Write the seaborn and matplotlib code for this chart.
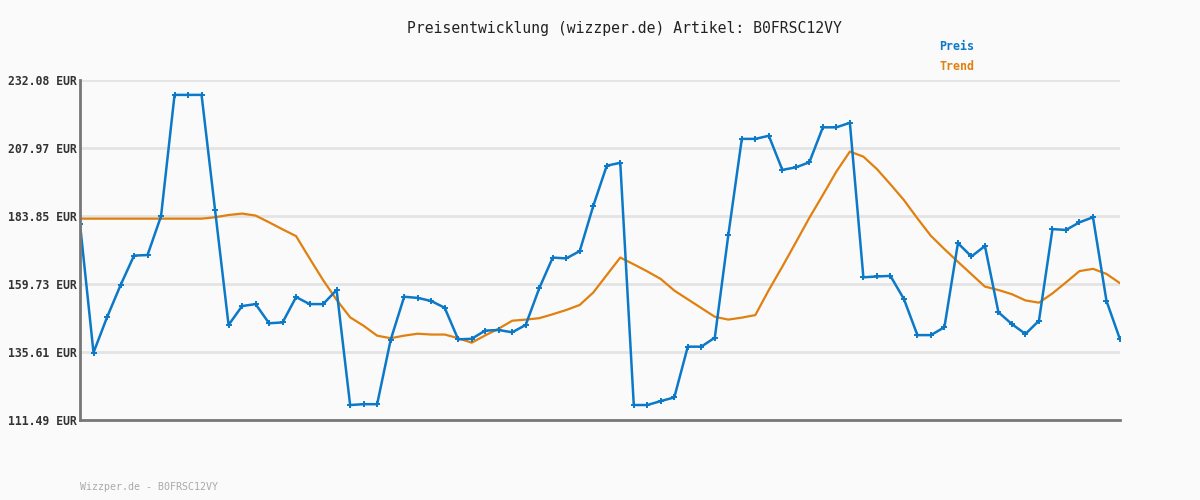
import matplotlib
matplotlib.use("Agg")
import matplotlib.pyplot as plt
import seaborn as sns
import pandas as pd

title = "Preisentwicklung (wizzper.de) Artikel: B0FRSC12VY"
footer = "Wizzper.de - B0FRSC12VY"
series_names = ["Preis", "Trend"]

preis = [181.0, 135.4, 147.9, 159.3, 169.8, 170.0, 183.8, 226.8, 226.8, 226.8,
         186.0, 145.2, 151.9, 152.6, 145.8, 146.1, 155.1, 152.6, 152.6, 157.6,
         116.8, 117.1, 117.1, 139.9, 155.2, 154.8, 153.7, 151.3, 140.1, 140.3,
         143.2, 143.4, 142.6, 145.2, 158.2, 169.1, 168.8, 171.4, 187.4, 201.7,
         202.7, 116.8, 116.8, 118.2, 119.5, 137.5, 137.5, 140.7, 177.1, 211.2,
         211.2, 212.3, 200.2, 201.1, 202.9, 215.3, 215.3, 216.9, 162.1, 162.4,
         162.6, 154.4, 141.6, 141.6, 144.4, 174.2, 169.5, 173.2, 149.7, 145.5,
         142.0, 146.7, 179.2, 178.9, 181.6, 183.4, 153.7, 140.1]

trend = [182.9, 182.9, 182.9, 182.9, 182.9, 182.9, 182.9, 182.9, 182.9, 182.9,
         183.4, 184.2, 184.7, 184.0, 181.6, 179.1, 176.7, 168.8, 161.1, 154.1,
         147.9, 144.9, 141.4, 140.5, 141.4, 142.1, 141.8, 141.8, 140.5, 138.9,
         141.5, 143.9, 146.7, 147.1, 147.6, 149.0, 150.5, 152.3, 156.7, 162.9,
         169.1, 166.7, 164.2, 161.5, 157.4, 154.3, 151.2, 148.1, 147.1, 147.8,
         148.7, 157.6, 165.9, 174.5, 183.2, 191.3, 199.6, 206.7, 204.9, 200.5,
         195.1, 189.5, 183.0, 176.8, 172.1, 167.6, 163.2, 158.8, 157.6, 156.1,
         153.9, 153.1, 156.4, 160.3, 164.3, 165.1, 163.3, 160.0]

y_ticks = [111.49, 135.61, 159.73, 183.85, 207.97, 232.08]
y_labels = ["111.49 EUR", "135.61 EUR", "159.73 EUR", "183.85 EUR", "207.97 EUR", "232.08 EUR"]

blue = "#0b79c8"
orange = "#e0800f"
bg = "#fafafa"

sns.set_style("white")
plt.rcParams["font.family"] = ["DejaVu Sans Mono", "DejaVu Sans"]

idx = list(range(len(preis)))
df = pd.DataFrame({"idx": idx, "Preis": preis, "Trend": trend})

fig = plt.figure(figsize=(12, 5), dpi=100, facecolor=bg)
ax = fig.add_axes([80 / 1200, 80 / 500, 1040 / 1200, 340 / 500])
ax.set_facecolor(bg)

sns.lineplot(data=df, x="idx", y="Trend", ax=ax, color=orange, linewidth=1.6, zorder=3)
sns.lineplot(data=df, x="idx", y="Preis", ax=ax, color=blue, linewidth=1.8,
             marker="+", markersize=4.5, markeredgewidth=1.4, markeredgecolor=blue, zorder=4)

ax.set_xlim(0, len(preis) - 1)
ax.set_ylim(y_ticks[0], y_ticks[-1])
ax.set_yticks(y_ticks)
ax.set_yticklabels(y_labels, fontsize=8.3, fontweight="bold", color="#333333")
ax.set_xticks([])
ax.set_xlabel("")
ax.set_ylabel("")
ax.tick_params(axis="y", length=0, pad=2)
ax.grid(axis="y", color="#e4e4e4", linewidth=2, zorder=0)
ax.set_axisbelow(True)

for s in ["top", "right"]:
    ax.spines[s].set_visible(False)
for s in ["left", "bottom"]:
    ax.spines[s].set_color("#777777")
    ax.spines[s].set_linewidth(2)
    ax.spines[s].set_zorder(5)

fig.text(624 / 1200, 1 - 28 / 500, title, ha="center", va="center", fontsize=10.6, color="#222222")
fig.text(939 / 1200, 1 - 47 / 500, series_names[0], ha="left", va="center", fontsize=8.4,
         fontweight="bold", color=blue)
fig.text(939 / 1200, 1 - 67 / 500, series_names[1], ha="left", va="center", fontsize=8.4,
         fontweight="bold", color=orange)
fig.text(80 / 1200, 1 - 487 / 500, footer, ha="left", va="center", fontsize=7.2, color="#aaaaaa")

fig.savefig("out.png", dpi=100, facecolor=bg)
